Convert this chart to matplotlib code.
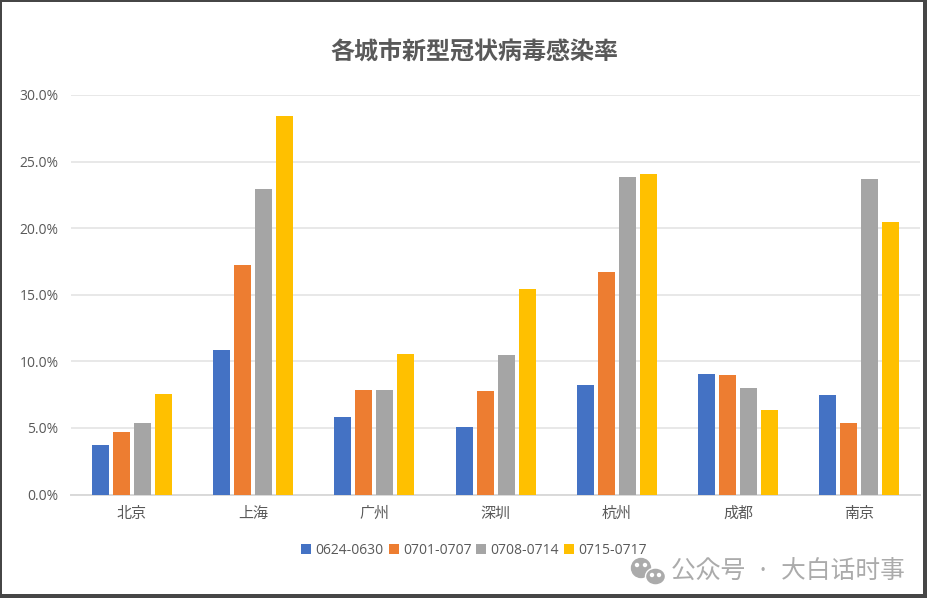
import numpy as np
import matplotlib
matplotlib.use('Agg')
import matplotlib.pyplot as plt
from matplotlib.patches import Rectangle, Ellipse

cities = ['北京', '上海', '广州', '深圳', '杭州', '成都', '南京']
weeks = ['0624-0630', '0701-0707', '0708-0714', '0715-0717']
wk1 = [3.7, 10.85, 5.8, 5.1, 8.2, 9.05, 7.5]
wk2 = [4.7, 17.2, 7.85, 7.8, 16.7, 9.0, 5.35]
wk3 = [5.4, 22.95, 7.85, 10.45, 23.85, 8.0, 23.7]
wk4 = [7.55, 28.4, 10.55, 15.45, 24.05, 6.35, 20.45]
yticks = [0, 5, 10, 15, 20, 25, 30]
colors = ['#4472C4', '#ED7D31', '#A5A5A5', '#FFC000']

W, H = 935, 609
CJK = 'Noto Sans CJK JP'

fig = plt.figure(figsize=(W / 100, H / 100), dpi=100)
fig.patch.set_facecolor('white')
ax = fig.add_axes([71 / W, 1 - 494.5 / H, 849 / W, 399.5 / H])

x = np.arange(len(cities))
bar_w = 17 / (849 / 7)
step = 21 / (849 / 7)
for i, (vals, c, name) in enumerate(zip([wk1, wk2, wk3, wk4], colors, weeks)):
    ax.bar(x + (i - 1.5) * step, vals, bar_w, color=c, label=name, zorder=3)

ax.set_xlim(-0.5, 6.5)
ax.set_ylim(0, 30)
ax.set_yticks(yticks)
ax.set_yticklabels(['%.1f%%' % v for v in yticks], color='#595959', fontsize=10, family='Open Sans')
ax.set_xticks(x)
ax.set_xticklabels(cities, color='#595959', fontsize=10.8, family=CJK)
ax.tick_params(length=0)
ax.tick_params(axis='y', pad=9)
ax.tick_params(axis='x', pad=9)
ax.grid(axis='y', color='#E8E8E8', lw=1.4, zorder=0)
ax.set_axisbelow(True)
for s in ['top', 'right', 'left']:
    ax.spines[s].set_visible(False)
ax.spines['bottom'].set_color('#D9D9D9')
ax.spines['bottom'].set_linewidth(1.4)

fig.text(474 / W, 1 - 53 / H, '各城市新型冠状病毒感染率', ha='center', va='center',
         fontsize=17.3, fontweight='bold', color='#595959', family=CJK)

ax.legend(loc='center', bbox_to_anchor=(474 / W, 1 - 550 / H), bbox_transform=fig.transFigure,
          ncol=4, frameon=False, handlelength=0.72, handleheight=0.72, handletextpad=0.3,
          columnspacing=0.35, labelcolor='#595959', prop={'family': 'Open Sans', 'size': 10})

# watermark
fig.text(905 / W, 1 - 572 / H, '公众号  ·  大白话时事', ha='right', va='center',
         fontsize=17.8, color='#ABABAB', family=CJK, zorder=6)
fig.add_artist(Ellipse((641 / W, 1 - 568 / H), 19 / W, 19 / H, color='#ABABAB',
                       transform=fig.transFigure, zorder=6))
fig.add_artist(Ellipse((655.5 / W, 1 - 576.5 / H), 20 / W, 17 / H, facecolor='#ABABAB', edgecolor='white',
                       lw=1, transform=fig.transFigure, zorder=7))
for ex, ey in [(637, 565), (645, 565), (652, 575), (659, 575)]:
    fig.add_artist(Ellipse((ex / W, 1 - ey / H), 3 / W, 3 / H, color='white',
                           transform=fig.transFigure, zorder=8))

# screenshot frame, thicker on the right and bottom
frame = [(0, 0, 927, 2), (0, 0, 2, 598), (923, 0, 4, 598), (0, 594, 927, 4)]
for fx, fy, fw, fh in frame:
    fig.add_artist(Rectangle((fx / W, 1 - (fy + fh) / H), fw / W, fh / H, color='#464646', lw=0,
                             transform=fig.transFigure, zorder=9))

fig.savefig('out.png', dpi=100)
